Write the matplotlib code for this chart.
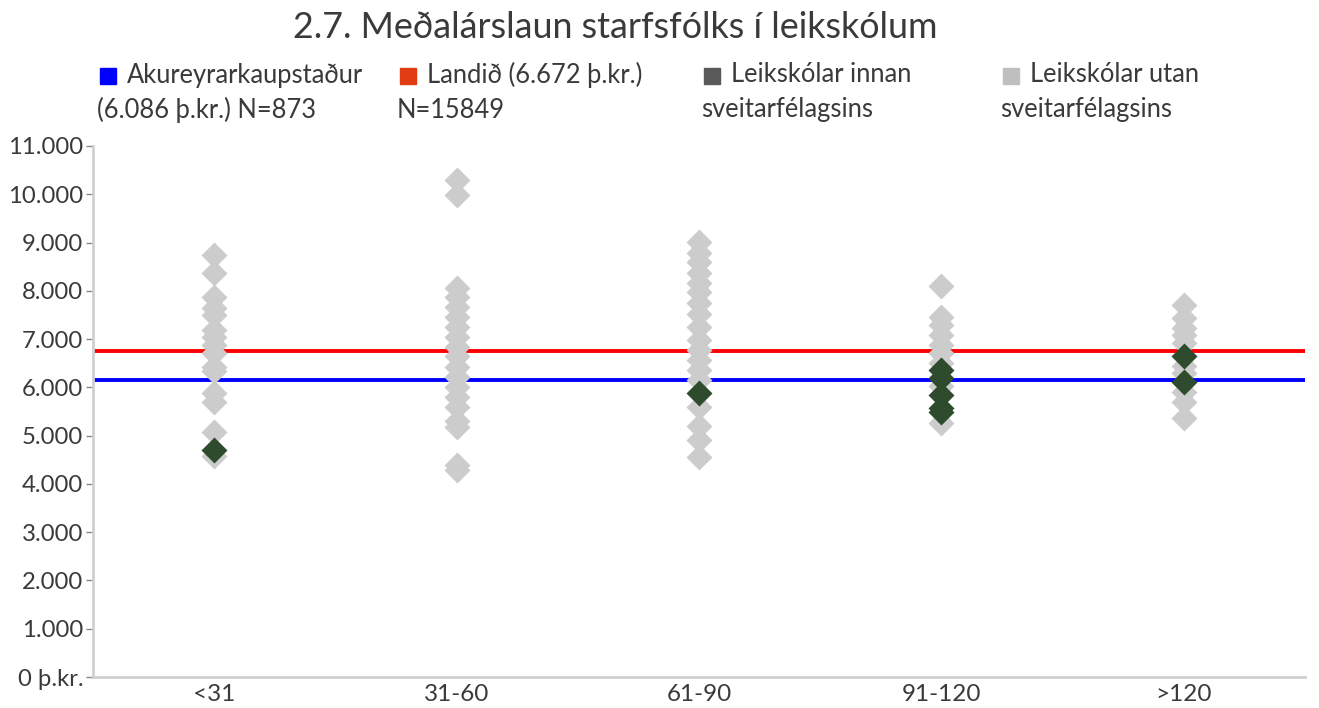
import matplotlib.pyplot as plt
from matplotlib.patches import Rectangle

plt.rcParams['font.family'] = ['Lato', 'DejaVu Sans']

title = '2.7. Meðalárslaun starfsfólks í leikskólum'
categories = ['<31', '31-60', '61-90', '91-120', '>120']

# laun utan sveitarfélagsins (þ.kr.), eftir flokki
utan = [
    [8740, 8360, 7880, 7640, 7500, 7190, 7050, 6880, 6710, 6430, 6330, 5880, 5700, 5080, 4580],
    [10300, 9990, 8050, 7880, 7670, 7460, 7260, 7050, 6840, 6640, 6430, 6220, 6010,
     5810, 5600, 5300, 5180, 4400, 4280],
    [9020, 8780, 8600, 8360, 8160, 7980, 7740, 7530, 7260, 6980, 6770, 6570, 6360,
     6150, 5600, 5190, 4910, 4560],
    [8090, 7460, 7290, 7090, 6880, 6710, 6500, 6020, 5260],
    [7710, 7430, 7220, 7080, 6910, 6440, 6300, 5910, 5700, 5360],
]
# laun innan sveitarfélagsins
innan = [
    [4700],
    [],
    [5880],
    [6350, 6200, 5850, 5580, 5480],
    [6640, 6120],
]

landid = 6750
akureyri = 6150

legend_colors = ['#0000ff', '#e03c14', '#595959', '#bfbfbf']
legend_line1 = ['Akureyrarkaupstaður', 'Landið (6.672 þ.kr.)', 'Leikskólar innan', 'Leikskólar utan']
legend_line2 = ['(6.086 þ.kr.) N=873', 'N=15849', 'sveitarfélagsins', 'sveitarfélagsins']
legend_x = [100, 400, 704, 1003]

txt = '#3a3a3a'
fig = plt.figure(figsize=(13.19, 7.08), dpi=100)
ax = fig.add_axes([93 / 1319, 1 - 677 / 708, 1212 / 1319, 531 / 708])

ax.axhline(landid, color='#ff0000', lw=2.8, zorder=1)
ax.axhline(akureyri, color='#0000ff', lw=2.8, zorder=1)

for i in range(len(categories)):
    ax.scatter([i] * len(utan[i]), utan[i], marker='D', s=175, color='#cccccc',
               linewidths=0, zorder=2)
    ax.scatter([i] * len(innan[i]), innan[i], marker='D', s=175, color='#2e4b2e',
               linewidths=0, zorder=3)

ax.set_xlim(-0.5, 4.5)
ax.set_ylim(0, 11000)
yt = list(range(0, 11001, 1000))
ax.set_yticks(yt)
ax.set_yticklabels(['0 þ.kr.'] + [f'{v:,}'.replace(',', '.') for v in yt[1:]])
ax.set_xticks(range(len(categories)))
ax.set_xticklabels(categories)
ax.tick_params(axis='y', colors='#888888', length=5, width=1, labelsize=17.2,
               labelcolor=txt, pad=2)
ax.tick_params(axis='x', length=0, labelsize=17.5, labelcolor=txt, pad=5)
for s in ['top', 'right']:
    ax.spines[s].set_visible(False)
for s in ['left', 'bottom']:
    ax.spines[s].set_color('#d0d0d0')
    ax.spines[s].set_linewidth(2)

fig.text(615 / 1319, 1 - 28 / 708, title, ha='center', va='center', fontsize=25.8,
         color=txt)

for c, l1, l2, x in zip(legend_colors, legend_line1, legend_line2, legend_x):
    fig.patches.append(Rectangle((x / 1319, 1 - 84 / 708), 16 / 1319, 16 / 708,
                                 color=c, transform=fig.transFigure, figure=fig))
    fig.text((x + 27) / 1319, 1 - 75 / 708, l1, ha='left', va='center', fontsize=18.4,
             color=txt)
    fig.text((x - 3) / 1319, 1 - 110 / 708, l2, ha='left', va='center', fontsize=18.4,
             color=txt)

fig.savefig('out.png', dpi=100)
